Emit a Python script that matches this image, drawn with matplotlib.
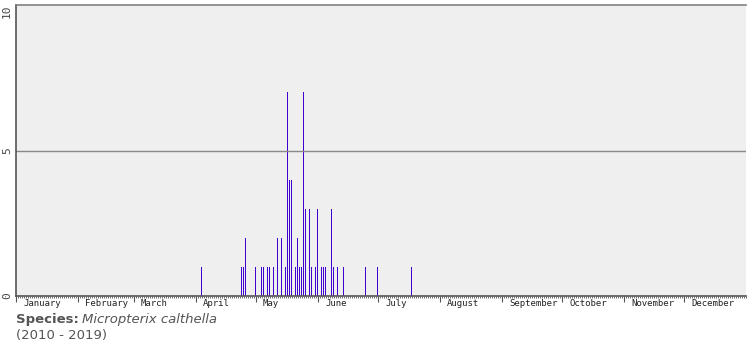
import numpy as np
import matplotlib.pyplot as plt

# day of year (0 = 1 January) and number of records
days   = [92, 112, 113, 114, 119, 122, 123, 125, 126, 128, 130, 132, 134, 135,
          136, 137, 139, 140, 141, 142, 143, 144, 146, 147, 149, 150, 152, 153,
          154, 157, 158, 160, 163, 174, 180, 197]
counts = [1, 1, 1, 2, 1, 1, 1, 1, 1, 1, 2, 2, 1, 7,
          4, 4, 1, 2, 1, 1, 7, 3, 3, 1, 1, 3, 1, 1,
          1, 3, 1, 1, 1, 1, 1, 1]

months = ['January', 'February', 'March', 'April', 'May', 'June', 'July',
          'August', 'September', 'October', 'November', 'December']
month_len = [31, 28, 31, 30, 31, 30, 31, 31, 30, 31, 30, 31]
month_start = np.concatenate([[0], np.cumsum(month_len)[:-1]])

species = 'Micropterix calthella'
years = '(2010 - 2019)'

fig = plt.figure(figsize=(7.55, 3.5), dpi=100)
ax = fig.add_axes([16 / 755, 54 / 350, 730 / 755, 291 / 350])
ax.set_facecolor('#efefef')

ax.vlines(np.array(days) + 0.25, 0, counts, color='#4000d0', linewidth=0.72,
          antialiased=False)
ax.axhline(5, color='#888888', linewidth=1)

ax.set_xlim(0, 365)
ax.set_ylim(0, 10)

ax.spines['right'].set_visible(False)
ax.spines['left'].set_color('#555555')
ax.spines['top'].set_color('#808080')
ax.spines['bottom'].set_color('#555555')
ax.spines['bottom'].set_linestyle((0, (1, 1)))
for s in ['left', 'top', 'bottom']:
    ax.spines[s].set_linewidth(1.2)

ax.set_xticks(month_start)
ax.set_xticklabels([])
ax.set_xticks(np.arange(0, 366, 1), minor=True)
ax.tick_params(axis='x', which='major', length=4, width=0.8, color='#555555')
ax.tick_params(axis='x', which='minor', length=1.5, width=0.6, color='#555555')
for m, start in zip(months, month_start):
    ax.text(start + 3.5, -0.12, m, fontsize=6.5, family='DejaVu Sans Mono',
            color='#222222', ha='left', va='top')

ax.set_yticks([0, 5, 10])
ax.set_yticklabels(['0', '5', '10'], rotation=90, va='center',
                   fontsize=8, family='DejaVu Sans Mono', color='#444444')
ax.get_yticklabels()[-1].set_va('top')
ax.tick_params(axis='y', length=0, pad=3)

fig.text(16 / 755, 1 - 320 / 350, 'Species:', fontsize=9.5, fontweight='bold',
         color='#555555', va='center')
fig.text(82 / 755, 1 - 320 / 350, species, fontsize=9.5, style='italic',
         color='#555555', va='center')
fig.text(16 / 755, 1 - 335 / 350, years, fontsize=9.5, color='#555555',
         va='center')

plt.savefig('out.png', dpi=100)
